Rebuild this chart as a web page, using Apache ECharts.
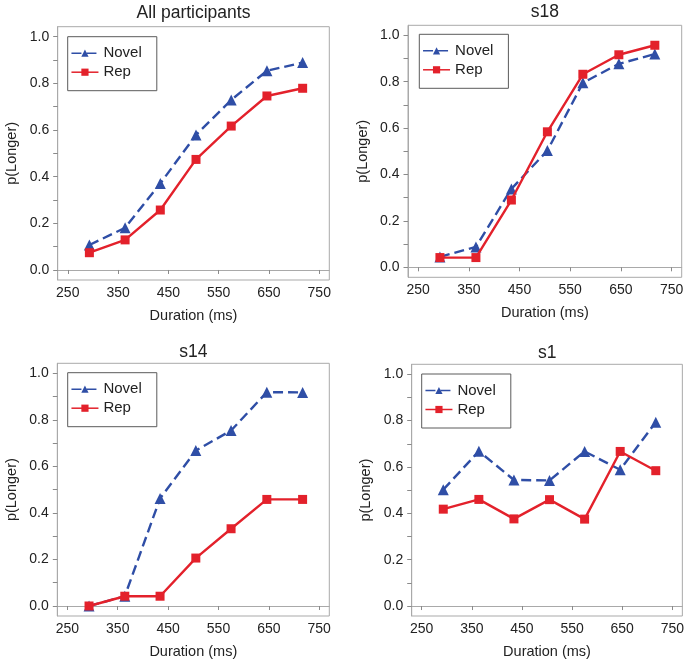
<!DOCTYPE html>
<html>
<head>
<meta charset="utf-8">
<script src="https://cdn.jsdelivr.net/npm/echarts@6/dist/echarts.min.js"></script>
<style>
html,body{margin:0;padding:0;background:#fff;}
#c{width:687px;height:660px;}
</style>
</head>
<body>
<div id="c"></div>
<script>
// ---- data ----
const durations = [293, 364, 434, 505, 575, 646, 717];
const panelTitles = ['All participants', 's18', 's14', 's1'];
const allNovel = [0.107, 0.181, 0.371, 0.579, 0.729, 0.854, 0.889];
const allRep   = [0.074, 0.129, 0.257, 0.474, 0.617, 0.746, 0.779];
const s18Novel = [0.045, 0.088, 0.338, 0.503, 0.795, 0.877, 0.919];
const s18Rep   = [0.042, 0.042, 0.290, 0.584, 0.832, 0.916, 0.957];
const s14Novel = [0.000, 0.042, 0.462, 0.668, 0.754, 0.919, 0.918];
const s14Rep   = [0.000, 0.042, 0.042, 0.206, 0.332, 0.458, 0.458];
const s1Novel  = [0.502, 0.668, 0.544, 0.542, 0.667, 0.588, 0.793];
const s1Rep    = [0.418, 0.460, 0.376, 0.459, 0.375, 0.667, 0.584];
const xTickLabels = [250, 350, 450, 550, 650, 750];
const yTickLabels = [0, 0.2, 0.4, 0.6, 0.8, 1.0];
const yTicks = [0, 0.1, 0.2, 0.3, 0.4, 0.5, 0.6, 0.7, 0.8, 0.9, 1.0];

const novelSets = [allNovel, s18Novel, s14Novel, s1Novel];
const repSets = [allRep, s18Rep, s14Rep, s1Rep];

// ---- layout ----
const grids = [
  {left: 57.7, top: 26.7, width: 271.6, height: 253.3},
  {left: 408, top: 25.3, width: 273.7, height: 252},
  {left: 57.3, top: 363.3, width: 272, height: 252.7},
  {left: 411.7, top: 364.3, width: 271.3, height: 253}
];
const titleTops = [4, 3, 343, 344];
const legendPos = [
  {left: 67.7, top: 36.7},
  {left: 419.3, top: 34.3},
  {left: 67.7, top: 372.7},
  {left: 421.7, top: 374}
];

const FONT = 'Liberation Sans, Arial, Helvetica, sans-serif';
const BLUE = '#2f4ea6';
const RED = '#e3212b';
const TXT = '#222';

const option = {
  animation: false,
  backgroundColor: '#fff',
  textStyle: {fontFamily: FONT},
  title: [], grid: [], xAxis: [], yAxis: [], legend: [], series: []
};

for (let i = 0; i < 4; i++) {
  const g = grids[i];
  option.grid.push(Object.assign({show: true, borderColor: '#a9a9a9', borderWidth: 1, containLabel: false}, g));
  option.title.push({
    text: panelTitles[i],
    left: g.left + g.width / 2,
    top: titleTops[i],
    textAlign: 'center',
    padding: 0,
    textStyle: {fontFamily: FONT, fontSize: 17.5, fontWeight: 'normal', color: TXT}
  });
  option.xAxis.push({
    type: 'value', gridIndex: i, min: 230, max: 770,
    name: 'Duration (ms)', nameLocation: 'middle', nameGap: 28,
    nameTextStyle: {fontFamily: FONT, fontSize: 14.5, color: TXT},
    axisLine: {show: true, lineStyle: {color: '#a9a9a9', width: 1}},
    axisTick: {show: true, length: 4, lineStyle: {color: '#8a8a8a'}, customValues: xTickLabels},
    axisLabel: {show: true, margin: 6, fontFamily: FONT, fontSize: 14, color: TXT, customValues: xTickLabels},
    splitLine: {show: false}
  });
  option.yAxis.push({
    type: 'value', gridIndex: i, min: -0.043, max: 1.043,
    name: 'p(Longer)', nameLocation: 'middle', nameGap: 38,
    nameTextStyle: {fontFamily: FONT, fontSize: 14.5, color: TXT},
    axisLine: {show: true, lineStyle: {color: '#a9a9a9', width: 1}},
    axisTick: {show: true, length: 4.5, lineStyle: {color: '#8a8a8a'}, customValues: yTicks},
    axisLabel: {show: true, margin: 8.5, fontFamily: FONT, fontSize: 14, color: TXT, customValues: yTickLabels,
      formatter: v => Number(v).toFixed(1)},
    splitLine: {show: false}
  });
  const nName = 'Novel', rName = 'Rep';
  option.legend.push({
    show: true, orient: 'vertical',
    left: legendPos[i].left, top: legendPos[i].top,
    padding: [9, 15, 11, 3], itemGap: 4,
    itemWidth: 27, itemHeight: 9,
    borderColor: '#5a5a5a', borderWidth: 1, backgroundColor: '#fff',
    lineStyle: {width: 1.5},
    textStyle: {fontFamily: FONT, fontSize: 15, color: TXT, lineHeight: 15},
    data: [nName + '\u200b'.repeat(i), rName + '\u200b'.repeat(i)],
    formatter: n => n.replace(/\u200b/g, '')
  });
  option.series.push({
    type: 'line', name: nName + '\u200b'.repeat(i), xAxisIndex: i, yAxisIndex: i,
    data: durations.map((d, k) => [d, novelSets[i][k]]),
    symbol: 'triangle', symbolSize: 11,
    lineStyle: {color: BLUE, width: 2.4, type: [10, 5]},
    itemStyle: {color: BLUE},
    z: 2
  });
  option.series.push({
    type: 'line', name: rName + '\u200b'.repeat(i), xAxisIndex: i, yAxisIndex: i,
    data: durations.map((d, k) => [d, repSets[i][k]]),
    symbol: 'rect', symbolSize: 9,
    lineStyle: {color: RED, width: 2.4, type: 'solid'},
    itemStyle: {color: RED},
    z: 3
  });
}

const chart = echarts.init(document.getElementById('c'), null, {renderer: 'canvas'});
chart.setOption(option);
</script>
</body>
</html>
